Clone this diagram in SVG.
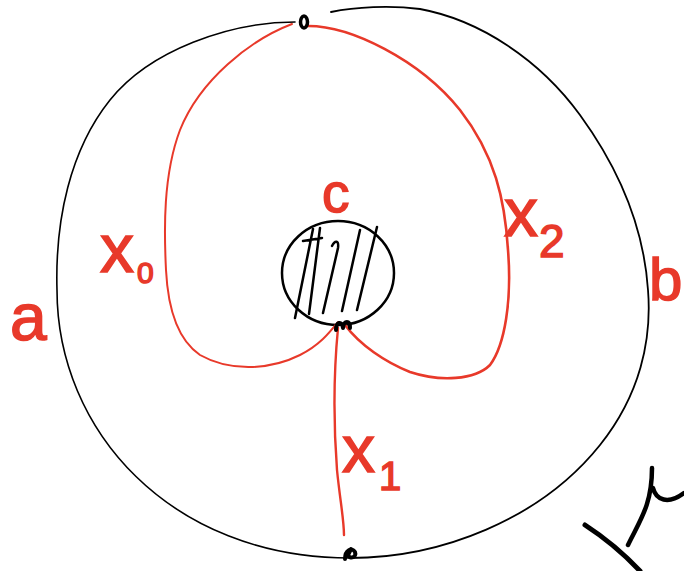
<svg xmlns="http://www.w3.org/2000/svg" width="684" height="571" viewBox="0 0 684 571">
<style>
.blk{fill:none;stroke:#000;stroke-linecap:round;stroke-linejoin:round}
.red{fill:none;stroke:#e8392a;stroke-linecap:round;stroke-linejoin:round}
.lbl{fill:#e8392a;stroke:#e8392a;stroke-width:1.5;font-family:"Liberation Sans","DejaVu Sans",sans-serif}
</style>
<rect width="684" height="571" fill="#fff"/>
<g id="outer-circle">
<path class="blk" stroke-width="1.6" d="M 295,22 C 230,22 150,50 110,100 C 70,150 55,220 57,290 C 57,430 170,558 350,558"/>
<path class="blk" stroke-width="1.8" d="M 350,558 C 440,558 540,520 600,445 C 640,395 652,340 648,290 C 644,230 620,170 580,115 C 540,60 480,20 420,9 C 390,5 355,7 331,12"/>
</g>
<g id="disk-c">
<ellipse class="blk" stroke-width="2.5" cx="338" cy="273" rx="56" ry="52"/>
<path class="blk" stroke-width="2.5" d="M 313,229 L 295,318 M 303,241 L 322,238 M 320,228 L 309,314 M 332,246 C 335,240 339,240 338,248 L 323,313 M 360,230 L 342,311 M 377,227 L 357,310"/>
</g>
<g id="connectors">
<path class="red" stroke-width="2" d="M 292,24 C 250,40 200,80 180,130 C 163,175 164,230 166,270 C 168,310 178,340 200,355 C 230,372 270,370 300,355 C 320,345 330,332 338,322"/>
<path class="red" stroke-width="2.6" d="M 306,26 C 350,25 420,60 460,110 C 495,155 505,200 508,250 C 512,300 505,345 490,365 C 475,380 440,382 410,372 C 385,362 360,345 345,325"/>
<path class="red" stroke-width="2.4" d="M 338,328 C 333,380 334,430 337,470 C 340,500 344,520 344,535"/>
</g>
<g id="point-top">
<ellipse class="blk" stroke-width="3.5" cx="304" cy="22" rx="3.5" ry="6"/>
</g>
<g id="point-center">
<path class="blk" stroke-width="4" d="M 336,330 C 336,322 342,320 343,328 C 344,320 350,320 350,328"/>
</g>
<g id="point-bottom">
<path class="blk" stroke-width="4" d="M 345,559 C 345,550 352,547 355,552 C 357,557 350,560 348,555 L 351,549"/>
</g>
<g id="labels">
<text class="lbl" x="10" y="340" font-size="66">a</text>
<text class="lbl" x="649" y="300" font-size="60">b</text>
<text class="lbl" x="322" y="212" font-size="55">c</text>
<text class="lbl" x="100" y="272" font-size="68">x</text>
<text class="lbl" x="137" y="283" font-size="30">0</text>
<text class="lbl" x="504" y="236" font-size="68">x</text>
<text class="lbl" x="539" y="257" font-size="46">2</text>
<text class="lbl" x="342" y="472" font-size="66">x</text>
<text class="lbl" x="379" y="490" font-size="40">1</text>
</g>
<g id="corner-mark">
<path class="blk" stroke-width="5" d="M 585,525 C 605,538 625,555 640,571"/>
<path class="blk" stroke-width="4.5" d="M 628,545 C 640,520 652,505 652,468 M 653,488 C 656,500 668,505 684,493"/>
</g>
</svg>
